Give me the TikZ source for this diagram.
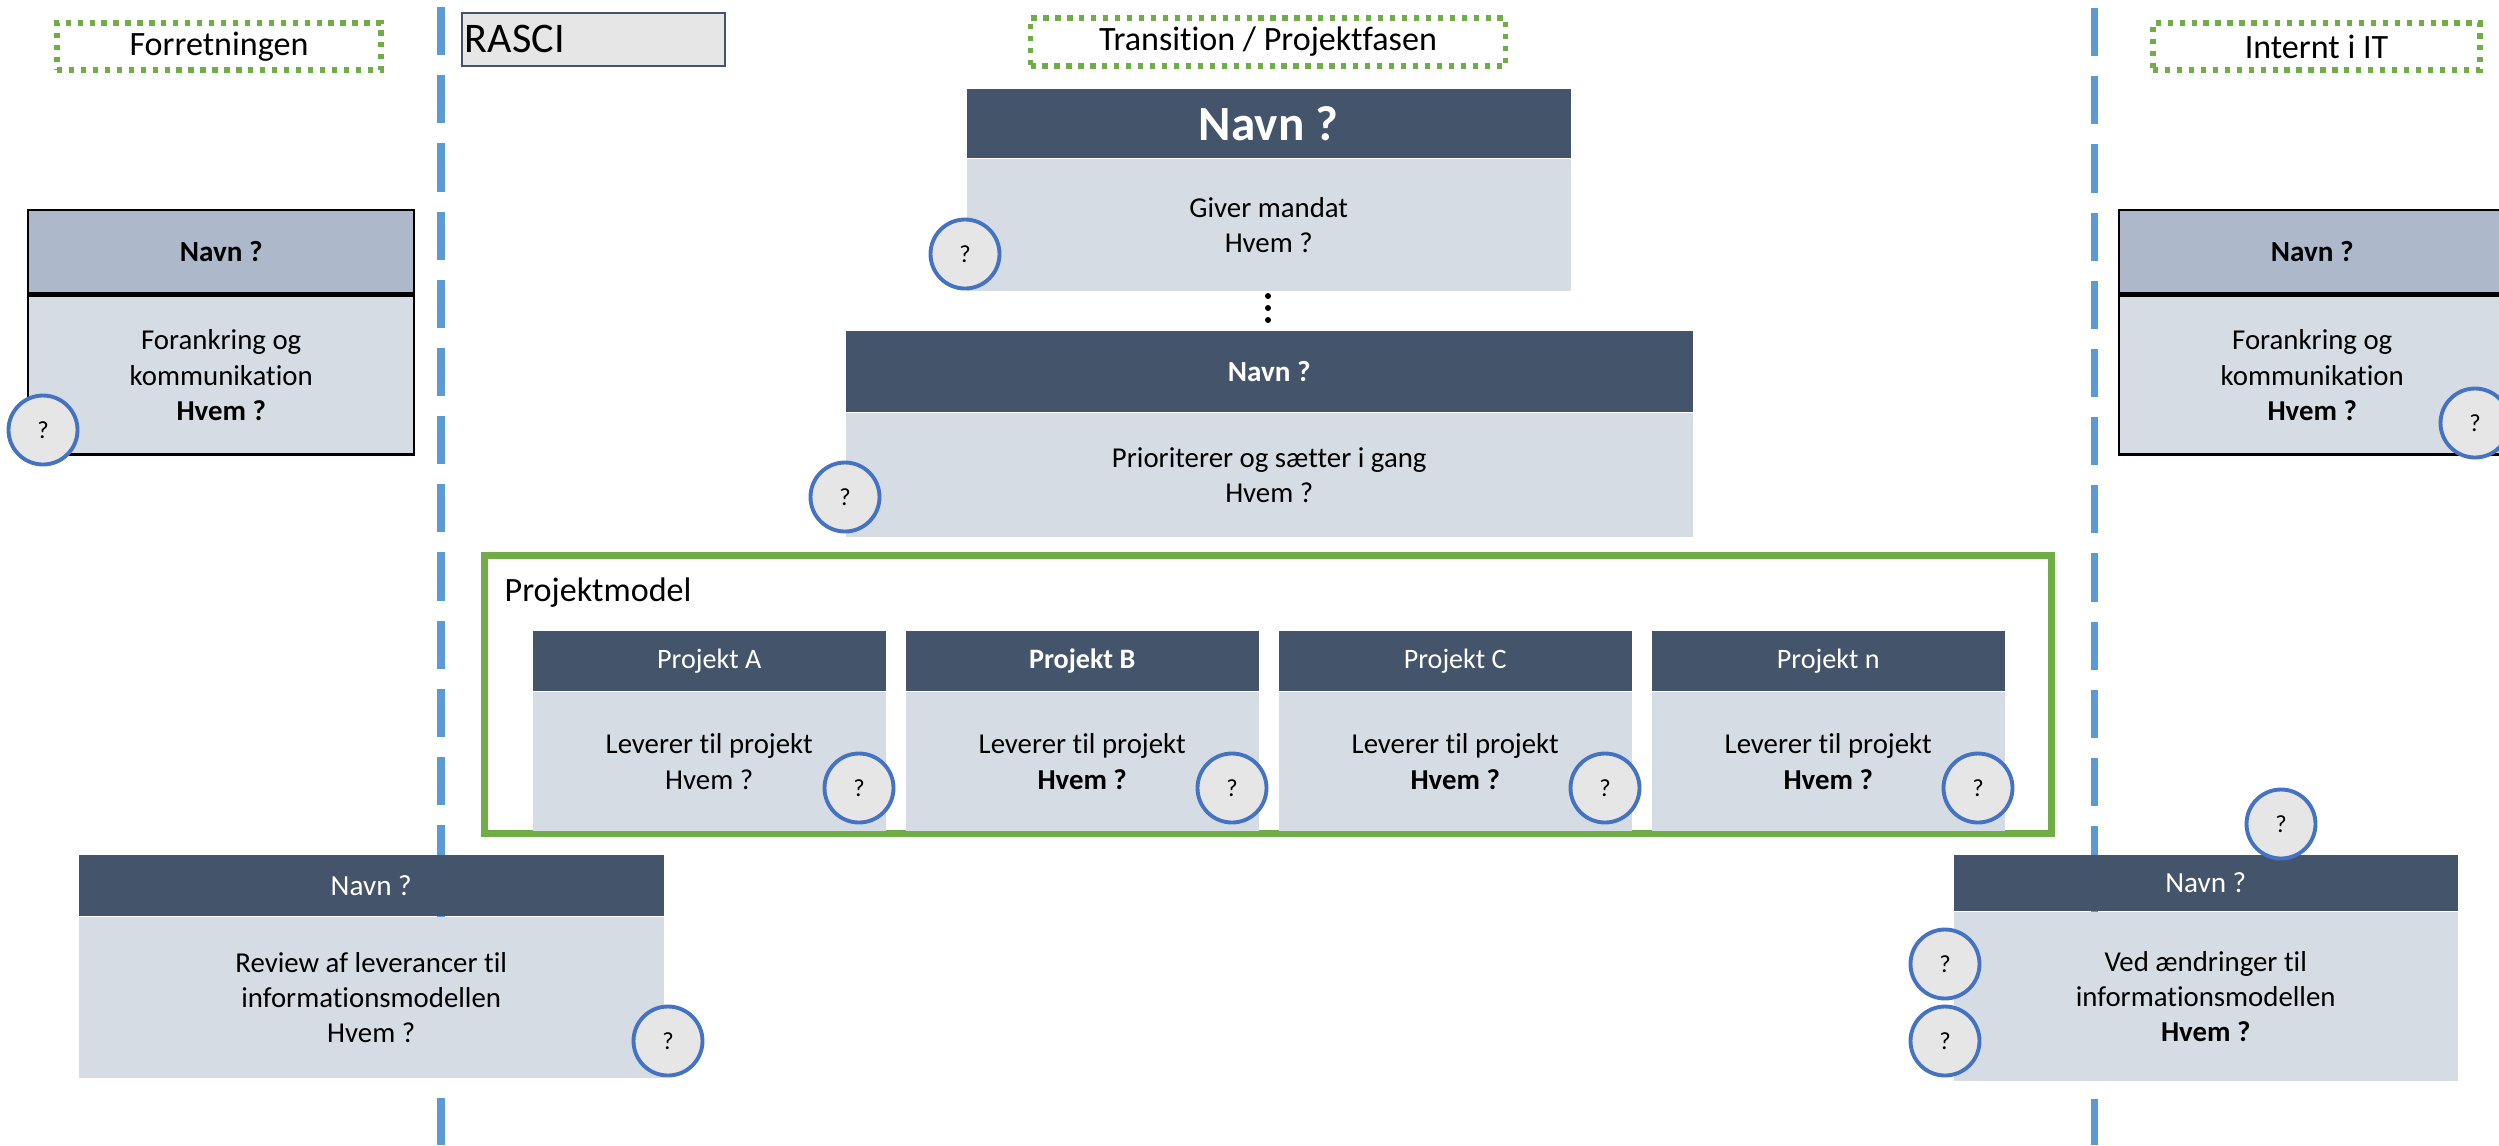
\documentclass[tikz,border=0pt]{standalone}
\usepackage{fontspec}
\setmainfont{Carlito}[Ligatures=NoCommon]
\usepackage{xcolor}
\usetikzlibrary{positioning}

\definecolor{hdrblue}{HTML}{44546A}
\definecolor{bdygray}{HTML}{D6DCE4}
\definecolor{sidegray}{HTML}{ADB9CA}
\definecolor{circgray}{HTML}{E7E6E6}
\definecolor{circblue}{HTML}{4472C4}
\definecolor{lanegreen}{HTML}{70AD47}
\definecolor{divblue}{HTML}{5B9BD5}

\tikzset{
  hdr/.style={rectangle, fill=hdrblue, text=white, inner sep=0pt, anchor=north west},
  bdy/.style={rectangle, fill=bdygray, inner sep=0pt, align=center, font=\fontsize{8.2}{10}\selectfont},
  sidehdr/.style={rectangle, fill=sidegray, draw=black, line width=0.7pt, inner sep=0pt, anchor=north west, font=\bfseries\fontsize{8.3}{10}\selectfont},
  sidebdy/.style={bdy, draw=black, line width=0.7pt},
  qmark/.style={circle, fill=circgray, draw=circblue, line width=1.1pt, minimum size=0.69cm, inner sep=0pt, font=\fontsize{7}{8}\selectfont},
  lane/.style={rectangle, draw=lanegreen, line width=1.6pt, dash pattern=on 1.5pt off 1.9pt, inner sep=0pt, font=\fontsize{9.7}{11}\selectfont},
  divider/.style={draw=divblue, line width=2pt, dash pattern=on 13.7pt off 5.7pt},
  rascibox/.style={rectangle, fill=circgray, draw=hdrblue, line width=0.5pt, align=left, inner ysep=0pt, font=\fontsize{12}{14}\selectfont}
}

\begin{document}
\begin{tikzpicture}
      \useasboundingbox (0, 0) rectangle (24.99, -11.45);

      \draw[divider] (4.41, -0.07) -- (4.41, -11.45);
      \draw[divider] (20.94, -0.08) -- (20.94, -11.45);

      \node[lane, minimum width=3.24cm, minimum height=0.47cm] (forr) at (2.19, -0.465) {Forretningen};
      \node[lane, minimum width=4.75cm, minimum height=0.48cm] (trans) at (12.68, -0.42) {Transition / Projektfasen};
      \node[lane, minimum width=3.27cm, minimum height=0.47cm] (intern) at (23.165, -0.465) {Internt i IT};
      \node[rascibox, anchor=north west, minimum width=2.63cm, minimum height=0.53cm, text width=2.57cm, inner xsep=0.03cm] (rasci) at (4.61, -0.12) {RASCI};

      \node[hdr, minimum width=6.04cm, minimum height=0.69cm, font=\bfseries\fontsize{14}{16}\selectfont] (hdrMandat) at (9.66, -0.88) {Navn ?};
      \node[bdy, below=0pt of hdrMandat, minimum width=6.04cm, minimum height=1.32cm] (bdyMandat) {Giver mandat\\Hvem ?};
      \node[qmark] (qMandat) at (9.65, -2.54) {?};

      \fill (12.68, -2.96) circle (0.03);
      \fill (12.68, -3.08) circle (0.03);
      \fill (12.68, -3.20) circle (0.03);

      \node[hdr, minimum width=8.47cm, minimum height=0.81cm, font=\bfseries\fontsize{8.3}{10}\selectfont] (hdrPrio) at (8.45, -3.30) {Navn ?};
      \node[bdy, below=0pt of hdrPrio, minimum width=8.47cm, minimum height=1.24cm] (bdyPrio) {Prioriterer og sætter i gang\\Hvem ?};
      \node[qmark] (qPrio) at (8.45, -4.97) {?};

      \node[draw=lanegreen, line width=2pt, minimum width=15.67cm, minimum height=2.775cm, inner sep=0pt, anchor=north west] (frame) at (4.81, -5.52) {};
      \node[anchor=west, inner sep=0pt, font=\fontsize{9.7}{11}\selectfont] (projmodel) at (5.04, -5.93) {Projektmodel};

      \node[hdr, minimum width=3.53cm, minimum height=0.60cm, font=\fontsize{8}{10}\selectfont] (hdrA) at (5.32, -6.30) {Projekt A};
      \node[bdy, below=0pt of hdrA, minimum width=3.53cm, minimum height=1.39cm] (bdyA) {Leverer til projekt\\Hvem ?};
      \node[qmark] (qA) at (8.59, -7.88) {?};

      \node[hdr, minimum width=3.53cm, minimum height=0.60cm, font=\bfseries\fontsize{8}{10}\selectfont] (hdrB) at (9.05, -6.30) {Projekt B};
      \node[bdy, below=0pt of hdrB, minimum width=3.53cm, minimum height=1.39cm] (bdyB) {Leverer til projekt\\\textbf{Hvem ?}};
      \node[qmark] (qB) at (12.32, -7.88) {?};

      \node[hdr, minimum width=3.53cm, minimum height=0.60cm, font=\fontsize{8}{10}\selectfont] (hdrC) at (12.78, -6.30) {Projekt C};
      \node[bdy, below=0pt of hdrC, minimum width=3.53cm, minimum height=1.39cm] (bdyC) {Leverer til projekt\\\textbf{Hvem ?}};
      \node[qmark] (qC) at (16.05, -7.88) {?};

      \node[hdr, minimum width=3.53cm, minimum height=0.60cm, font=\fontsize{8}{10}\selectfont] (hdrN) at (16.51, -6.30) {Projekt n};
      \node[bdy, below=0pt of hdrN, minimum width=3.53cm, minimum height=1.39cm] (bdyN) {Leverer til projekt\\\textbf{Hvem ?}};
      \node[qmark] (qN) at (19.78, -7.88) {?};

      \node[sidehdr, minimum width=3.86cm, minimum height=0.83cm] (hdrForr) at (0.27, -2.09) {Navn ?};
      \node[sidebdy, below=0pt of hdrForr, minimum width=3.86cm, minimum height=1.59cm] (bdyForr) {Forankring og\\kommunikation\\\textbf{Hvem ?}};
      \node[qmark] (qForr) at (0.43, -4.30) {?};

      \node[sidehdr, minimum width=3.86cm, minimum height=0.83cm] (hdrIT) at (21.18, -2.09) {Navn ?};
      \node[sidebdy, below=0pt of hdrIT, minimum width=3.86cm, minimum height=1.59cm] (bdyIT) {Forankring og\\kommunikation\\\textbf{Hvem ?}};
      \node[qmark] (qIT) at (24.75, -4.23) {?};

      \node[hdr, minimum width=5.85cm, minimum height=0.61cm, font=\fontsize{8.3}{10}\selectfont] (hdrReview) at (0.78, -8.54) {Navn ?};
      \node[bdy, below=0pt of hdrReview, minimum width=5.85cm, minimum height=1.61cm] (bdyReview) {Review af leverancer til\\informationsmodellen\\Hvem ?};
      \node[qmark] (qReview) at (6.68, -10.41) {?};

      \node[hdr, minimum width=5.04cm, minimum height=0.56cm, font=\fontsize{8.3}{10}\selectfont] (hdrChange) at (19.53, -8.54) {Navn ?};
      \node[bdy, below=0pt of hdrChange, minimum width=5.04cm, minimum height=1.69cm] (bdyChange) {Ved ændringer til\\informationsmodellen\\\textbf{Hvem ?}};
      \node[qmark] (qChangeTop) at (22.81, -8.24) {?};
      \node[qmark] (qChangeA) at (19.45, -9.64) {?};
      \node[qmark] (qChangeB) at (19.45, -10.41) {?};

    \end{tikzpicture}
\end{document}
